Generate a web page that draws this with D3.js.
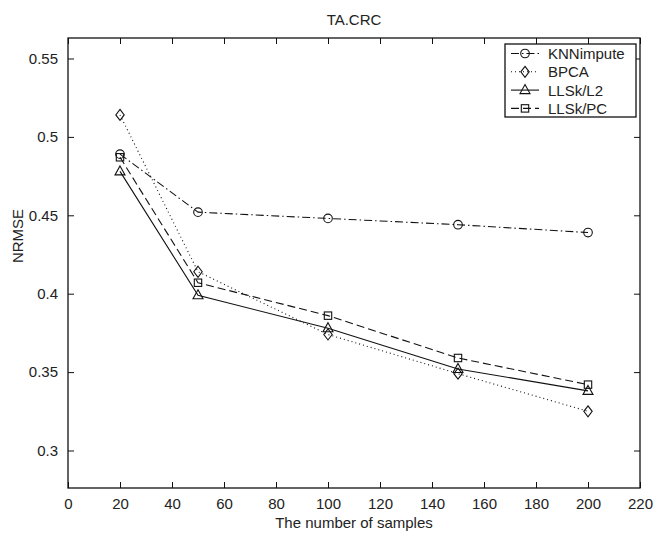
<!DOCTYPE html>
<html>
<head>
<meta charset="utf-8">
<script src="https://cdn.jsdelivr.net/npm/d3@7/dist/d3.min.js"></script>
<style>
  html, body { margin: 0; padding: 0; background: #fff; }
  svg { display: block; }
  text { font-family: "Liberation Sans", Arial, Helvetica, sans-serif; fill: #222; }
</style>
</head>
<body>
<script>
// ---- data ----
const samples = [20, 50, 100, 150, 200];
const knnImpute = [0.489, 0.452, 0.448, 0.444, 0.439];
const bpca      = [0.514, 0.414, 0.374, 0.349, 0.325];
const llskL2    = [0.478, 0.399, 0.378, 0.352, 0.338];
const llskPC    = [0.487, 0.407, 0.386, 0.359, 0.342];
const seriesNames = ["KNNimpute", "BPCA", "LLSk/L2", "LLSk/PC"];
const xTicks = [0, 20, 40, 60, 80, 100, 120, 140, 160, 180, 200, 220];
const yTicks = [0.3, 0.35, 0.4, 0.45, 0.5, 0.55];
const titleText = "TA.CRC";
const xLabel = "The number of samples";
const yLabel = "NRMSE";

const W = 657, H = 533;
const L = 68, R = 640, T = 38, B = 488;

const svg = d3.select("body").append("svg").attr("width", W).attr("height", H);

const x = d3.scaleLinear().domain([0, 220]).range([L, R]);
const y = d3.scaleLinear().domain([0.3, 0.55]).range([450.5, 58.5]);

const seriesData = [knnImpute, bpca, llskL2, llskPC];
const styles = [
  { dash: "8,3,1.5,3", marker: "circle" },
  { dash: "1,3", marker: "diamond" },
  { dash: null, marker: "triangle" },
  { dash: "8,4", marker: "square" }
];

// axes box
const tickLen = 6;
const gB = svg.append("g").attr("transform", `translate(0,${B})`)
  .call(d3.axisBottom(x).tickValues(xTicks).tickSize(-tickLen).tickPadding(10).tickFormat(d3.format("d")));
const gT = svg.append("g").attr("transform", `translate(0,${T})`)
  .call(d3.axisTop(x).tickValues(xTicks).tickSize(-tickLen).tickFormat(""));
const gL = svg.append("g").attr("transform", `translate(${L},0)`)
  .call(d3.axisLeft(y).tickValues(yTicks).tickSize(-tickLen).tickPadding(10).tickFormat(d => String(+d.toFixed(2))));
const gR = svg.append("g").attr("transform", `translate(${R},0)`)
  .call(d3.axisRight(y).tickValues(yTicks).tickSize(-tickLen).tickFormat(""));
[gB, gT, gL, gR].forEach(g => {
  g.select(".domain").remove();
  g.selectAll("line").attr("stroke", "#111").attr("stroke-width", 1);
  g.selectAll("text").attr("font-size", 15).attr("fill", "#222")
    .style("font-family", '"Liberation Sans", Arial, sans-serif');
});
svg.append("rect").attr("x", L).attr("y", T).attr("width", R - L).attr("height", B - T)
  .attr("fill", "none").attr("stroke", "#111").attr("stroke-width", 1.3);

// marker drawer
function drawMarker(g, type, cx, cy) {
  if (type === "circle") {
    g.append("circle").attr("cx", cx).attr("cy", cy).attr("r", 4.3)
      .attr("fill", "none").attr("stroke", "#111").attr("stroke-width", 1.1);
  } else if (type === "diamond") {
    g.append("path").attr("d", `M${cx},${cy - 5.5}L${cx + 4.2},${cy}L${cx},${cy + 5.5}L${cx - 4.2},${cy}Z`)
      .attr("fill", "none").attr("stroke", "#111").attr("stroke-width", 1.1);
  } else if (type === "triangle") {
    g.append("path").attr("d", `M${cx},${cy - 5.5}L${cx + 5},${cy + 3.5}L${cx - 5},${cy + 3.5}Z`)
      .attr("fill", "none").attr("stroke", "#111").attr("stroke-width", 1.1);
  } else {
    g.append("rect").attr("x", cx - 3.7).attr("y", cy - 3.7).attr("width", 7.4).attr("height", 7.4)
      .attr("fill", "none").attr("stroke", "#111").attr("stroke-width", 1.1);
  }
}

const line = d3.line().x((d, i) => x(samples[i])).y(d => y(d));
seriesData.forEach((vals, k) => {
  const g = svg.append("g");
  g.append("path").attr("d", line(vals)).attr("fill", "none").attr("stroke", "#111")
    .attr("stroke-width", 1.1).attr("stroke-dasharray", styles[k].dash);
  vals.forEach((v, i) => drawMarker(g, styles[k].marker, x(samples[i]), y(v)));
});

// legend
const lg = svg.append("g");
lg.append("rect").attr("x", 505).attr("y", 44).attr("width", 131).attr("height", 73)
  .attr("fill", "#fff").attr("stroke", "#111").attr("stroke-width", 1.3);
seriesNames.forEach((name, k) => {
  const cy = 53.5 + k * 18.3;
  lg.append("line").attr("x1", 511).attr("x2", 539).attr("y1", cy).attr("y2", cy)
    .attr("stroke", "#111").attr("stroke-width", 1.1).attr("stroke-dasharray", styles[k].dash);
  drawMarker(lg, styles[k].marker, 525, cy);
  lg.append("text").attr("x", 548).attr("y", cy).attr("dy", "0.36em")
    .attr("font-size", 15).text(name);
});

// titles
svg.append("text").attr("x", (L + R) / 2).attr("y", 25).attr("text-anchor", "middle")
  .attr("font-size", 15).text(titleText);
svg.append("text").attr("x", (L + R) / 2).attr("y", 528).attr("text-anchor", "middle")
  .attr("font-size", 15).text(xLabel);
svg.append("text").attr("transform", `translate(23,236) rotate(-90)`)
  .attr("text-anchor", "middle").attr("font-size", 15).text(yLabel);
</script>
</body>
</html>
